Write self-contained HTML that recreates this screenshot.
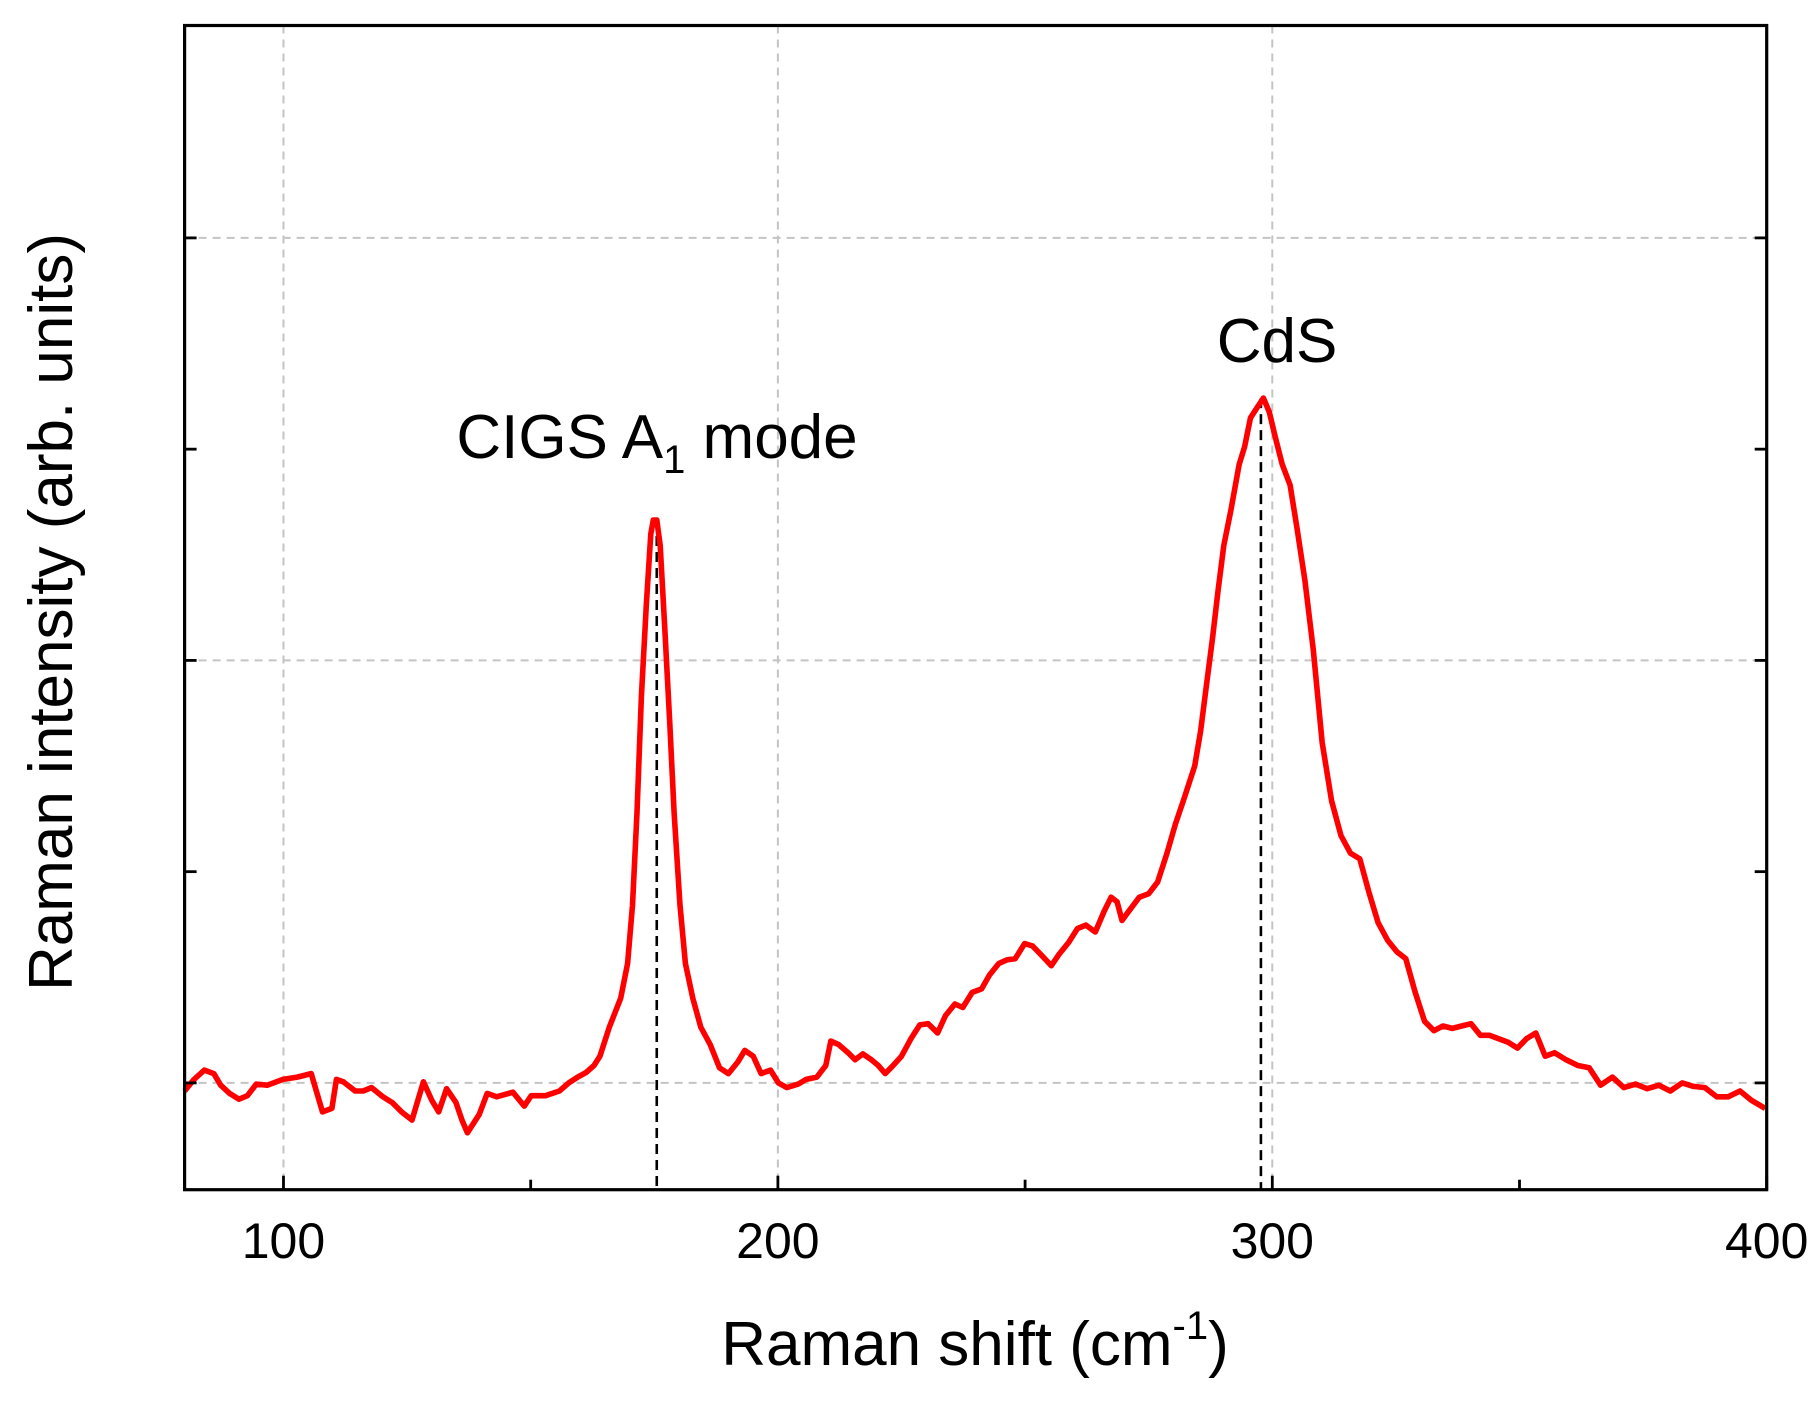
<!DOCTYPE html>
<html><head><meta charset="utf-8"><style>
html,body{margin:0;padding:0;background:#fff;}
svg{display:block;font-family:"Liberation Sans",Arial,sans-serif;}
</style></head><body>
<svg id="chart" width="1820" height="1405" viewBox="0 0 1820 1405" xmlns="http://www.w3.org/2000/svg">
<g id="grid"></g>
<g id="series"></g>
<g id="axes"></g>
<text x="657" y="458" font-size="62" text-anchor="middle">CIGS A<tspan font-size="40" dy="15">1</tspan><tspan dy="-15"> mode</tspan></text>
<text x="1277" y="362" font-size="62" text-anchor="middle">CdS</text>
<text x="975" y="1365" font-size="62" text-anchor="middle">Raman shift (cm<tspan font-size="40" dy="-26">-1</tspan><tspan dy="26">)</tspan></text>
<text transform="translate(72,612) rotate(-90)" font-size="62" text-anchor="middle">Raman intensity (arb. units)</text>
</svg>
<script>
const xs = [80.0,81.9,84.0,85.9,87.3,89.1,91.0,92.7,94.5,96.7,99.9,102.8,105.6,107.9,109.8,110.7,112.1,114.5,116.1,117.8,120.1,122.0,123.9,126.0,128.3,130.0,131.4,133.0,134.9,136.1,137.2,139.6,141.2,143.1,146.4,148.7,150.1,153.0,155.8,157.7,159.5,161.2,162.8,164.0,165.9,168.2,169.6,170.6,171.5,172.4,173.4,174.3,174.8,175.5,176.2,177.1,178.1,179.0,180.2,181.3,182.8,184.4,186.3,188.2,190.0,191.9,193.3,195.0,196.6,198.5,200.1,201.8,204.1,205.7,207.9,209.7,210.7,212.3,214.2,215.6,217.2,218.9,220.3,221.7,223.3,225.0,226.9,228.7,230.4,232.3,233.9,235.8,237.4,239.3,241.2,242.8,244.7,246.3,248.0,249.9,251.5,253.1,255.3,256.9,258.8,260.6,262.3,264.2,266.0,267.4,268.6,269.6,271.0,273.1,275.0,276.8,278.7,280.4,282.0,284.3,285.5,286.7,287.9,289.0,290.2,291.6,293.3,294.4,295.6,296.8,298.2,299.4,300.5,302.0,303.6,305.0,306.6,308.3,310.1,312.0,313.9,315.8,317.7,319.5,321.4,323.3,325.2,327.0,328.9,330.8,332.7,334.5,336.4,338.3,340.2,342.1,343.9,345.8,347.7,349.6,351.4,353.3,355.2,357.1,359.4,361.8,364.1,366.4,368.8,371.1,373.5,375.8,378.2,380.5,382.9,385.2,387.5,389.9,392.2,394.6,396.9,399.7];
const intensity = [-7,3,11,8,-2,-9,-14,-11,-1,-2,3,5,8,-25,-22,3,1,-7,-7,-4,-12,-17,-25,-32,1,-15,-25,-5,-17,-32,-43,-27,-9,-12,-8,-20,-11,-11,-7,0,5,9,15,23,48,73,103,153,233,333,413,473,485,485,463,393,313,233,153,103,73,48,33,13,8,18,28,23,8,11,0,-4,-1,3,5,15,36,33,26,20,25,20,15,8,15,23,38,50,51,43,58,68,65,78,81,93,103,106,107,120,118,111,101,111,121,133,136,130,148,160,156,140,148,160,163,173,198,223,243,273,303,343,383,423,463,493,533,548,573,581,590,578,558,533,515,478,433,373,293,243,213,198,193,165,138,123,113,107,78,53,45,49,47,49,51,41,41,38,35,30,38,43,23,26,20,15,13,-2,5,-4,-1,-5,-2,-7,0,-3,-4,-12,-12,-7,-15,-22];
const xTickLabels = [100,200,300,400];
const xMinorTicks = [150,250,350];
const yGridValues = [0,364,728];
const yMinorValues = [182,546];
const peakMarkers = [175.5,297.7];
const peakHeights = [485,590];

const L=184.6,R=1766.7,T=25.5,B=1189.7,XMIN=80,XMAX=400,YMIN=-92,YMAX=911;
const X=v=>L+(v-XMIN)/(XMAX-XMIN)*(R-L);
const Y=v=>B-(v-YMIN)/(YMAX-YMIN)*(B-T);
const NS="http://www.w3.org/2000/svg";
function mk(tag,attrs,parent){const e=document.createElementNS(NS,tag);for(const k in attrs)e.setAttribute(k,attrs[k]);parent.appendChild(e);return e;}
const grid=document.getElementById('grid'),series=document.getElementById('series'),axes=document.getElementById('axes');
const gs={stroke:'#c4c4c4','stroke-width':2,'stroke-dasharray':'8,6'};
xTickLabels.forEach(v=>{if(v<XMAX){const l=mk('line',Object.assign({x1:X(v),x2:X(v),y1:T,y2:B},gs),grid);

}});
yGridValues.forEach(v=>{const l=mk('line',Object.assign({x1:L,x2:R,y1:Y(v),y2:Y(v)},gs),grid);

});
peakMarkers.forEach((p,i)=>{const l=mk('line',{x1:X(p),x2:X(p),y1:Y(peakHeights[i]),y2:B,stroke:'#000','stroke-width':2.6,'stroke-dasharray':'10,6'},series);

});
const d=xs.map((x,i)=>(i?'L':'M')+X(x).toFixed(1)+','+Y(intensity[i]).toFixed(1)).join('');
const path=mk('path',{d:d,fill:'none',stroke:'#ff0000','stroke-width':5.6,'stroke-linejoin':'round'},series);


const frame=mk('rect',{x:L,y:T,width:R-L,height:B-T,fill:'none',stroke:'#000','stroke-width':3.2},axes);


xTickLabels.concat(xMinorTicks).forEach(v=>{const major=xTickLabels.includes(v);const len=major?14:10;
const t=mk('line',{x1:X(v),x2:X(v),y1:B,y2:B-len,stroke:'#000','stroke-width':2.8},axes);

});
xTickLabels.forEach(v=>{const t=mk('text',{x:X(v),y:1258,'font-size':50,'text-anchor':'middle'},axes);t.textContent=v;

});
yGridValues.concat(yMinorValues).forEach(v=>{[[L,L+12],[R,R-12]].forEach(p=>{const t=mk('line',{x1:p[0],x2:p[1],y1:Y(v),y2:Y(v),stroke:'#000','stroke-width':2.8},axes);

});});
</script>
</body></html>
